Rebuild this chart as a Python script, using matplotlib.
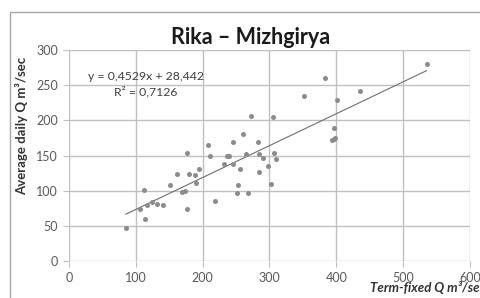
import numpy as np
import matplotlib.pyplot as plt
from matplotlib.patches import Rectangle

# term-fixed discharge vs average daily discharge (m3/sec)
term_q = [85, 106, 112, 113, 116, 124, 131, 140, 151, 161, 169, 174, 177, 177,
          179, 188, 190, 195, 208, 211, 218, 232.5, 236, 240, 245.5, 246, 252,
          253.5, 256, 260, 265, 267.5, 272, 283.5, 285, 285, 290, 298, 302, 306,
          307, 310, 351, 383, 393, 396, 398, 397, 401, 435, 535]
daily_q = [47, 75, 101, 60.5, 79.5, 84, 82, 80.5, 108, 124.5, 98, 100, 75, 154,
           124.5, 122.5, 111, 131, 165, 150, 85.5, 138, 149.5, 150, 169.5, 138.5,
           97.5, 108, 130.8, 181, 152.5, 97, 206, 169, 127, 152.5, 147, 135.5,
           110, 205, 154, 145, 235, 260, 172, 174, 175.5, 190, 229, 242, 280]

slope = 0.4529
intercept = 28.442
r2 = 0.7126

x_ticks = [0, 100, 200, 300, 400, 500, 600]
y_ticks = [0, 50, 100, 150, 200, 250, 300]

plt.rcParams['font.family'] = ['Lato', 'DejaVu Sans']

fig = plt.figure(figsize=(4.81, 2.98), dpi=100)
ax = fig.add_axes([0.1435, 0.123, 0.8335, 0.709])

# outer chart frame (runs off the image on the right/bottom)
fig.patches.append(Rectangle((10 / 481, -0.1), 1.2, (298 - 12) / 298 + 0.1,
                             transform=fig.transFigure, fill=False,
                             edgecolor='#a6a6a6', linewidth=1))

ax.scatter(term_q, daily_q, s=13, color='#8c8c8c', zorder=3, linewidths=0)

xs = np.array([min(term_q), max(term_q)])
ax.plot(xs, slope * xs + intercept, color='#6e6e6e', linewidth=0.8, zorder=2)

ax.set_xlim(0, 600)
ax.set_ylim(0, 300)
ax.set_xticks(x_ticks)
ax.set_yticks(y_ticks)
ax.grid(True, color='#c0c0c0', linewidth=1)
ax.set_axisbelow(True)
for s in ax.spines.values():
    s.set_visible(False)
ax.tick_params(axis='both', length=4, color='#c0c0c0', labelsize=9,
               labelcolor='#595959', pad=4)

fig.text(251 / 481, 1 - 37 / 298, 'Rika \u2013 Mizhgirya', ha='center',
         va='center', fontsize=15.5, fontweight='bold', color='#1a1a1a')
fig.text(21.5 / 481, 1 - 126 / 298, 'Average daily Q m\u00b3/sec', rotation=90,
         ha='center', va='center', fontsize=9.5, fontweight='bold', color='#333333')
fig.text(370 / 481, 1 - 288 / 298, 'Term-fixed Q m\u00b3/sec', ha='left',
         va='center', fontsize=9.5, fontweight='bold', style='italic', color='#333333')

fig.text(146 / 481, 1 - 76 / 298, 'y = 0,4529x + 28,442', ha='center',
         va='center', fontsize=8.8, color='#404040')
fig.text(146 / 481, 1 - 92 / 298, 'R\u00b2 = %s' % str(r2).replace('.', ','),
         ha='center', va='center', fontsize=8.8, color='#404040')

fig.savefig('out.png', dpi=100)
